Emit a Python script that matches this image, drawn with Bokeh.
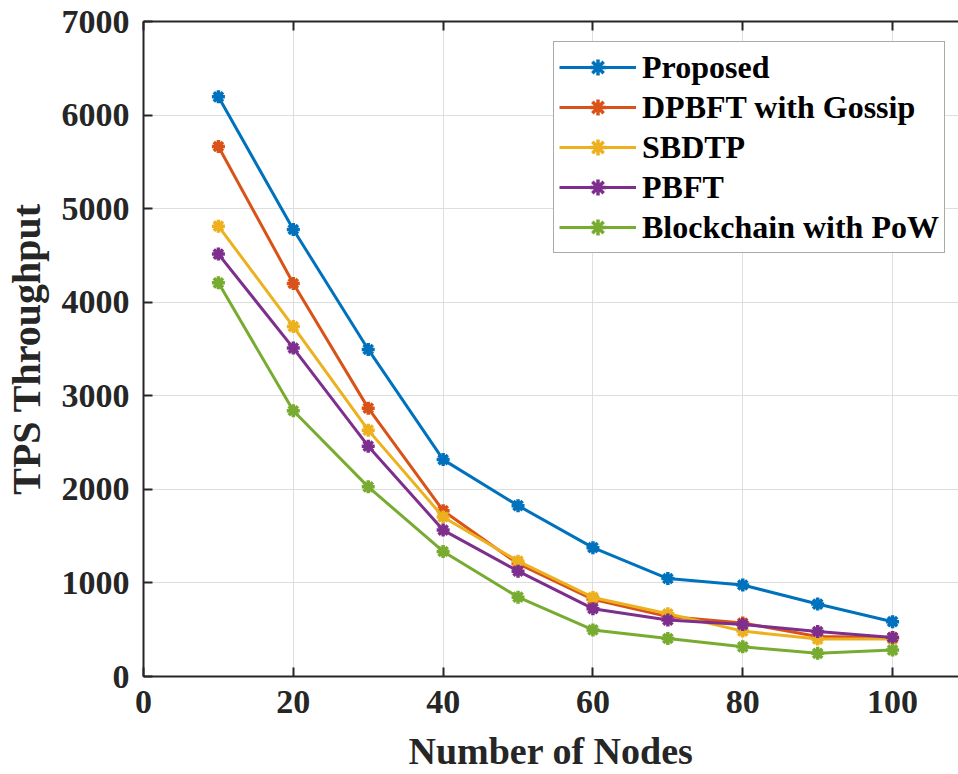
from bokeh.plotting import figure
from bokeh.models import Range1d, LinearAxis, FixedTicker, Legend, LegendItem
from bokeh.embed import file_html
from bokeh.resources import INLINE

nodes = [10, 20, 30, 40, 50, 60, 70, 80, 90, 100]
proposed = [6195, 4777, 3495, 2318, 1826, 1377, 1047, 978, 774, 586]
dpbft_gossip = [5664, 4200, 2868, 1772, 1205, 825, 640, 572, 428, 418]
sbdtp = [4813, 3740, 2633, 1705, 1233, 845, 670, 485, 400, 400]
pbft = [4514, 3510, 2462, 1565, 1126, 725, 603, 555, 481, 417]
pow_chain = [4207, 2840, 2027, 1336, 848, 498, 406, 317, 248, 282]

series_names = ["Proposed", "DPBFT with Gossip", "SBDTP", "PBFT", "Blockchain with PoW"]
series_values = [proposed, dpbft_gossip, sbdtp, pbft, pow_chain]
colors = ["#0072BD", "#D95319", "#EDB120", "#7E2F8E", "#77AC30"]

x_ticks = [0, 20, 40, 60, 80, 100]
y_ticks = [0, 1000, 2000, 3000, 4000, 5000, 6000, 7000]

FONT = "Liberation Serif"
TXT = "#262626"

p = figure(width=958, height=774, output_backend="svg", toolbar_location=None,
           x_range=Range1d(0, 108.8), y_range=Range1d(0, 7000),
           min_border_left=141, min_border_right=0, min_border_top=21, min_border_bottom=98,
           x_axis_label="Number of Nodes", y_axis_label="TPS Throughput")
p.outline_line_color = None
p.background_fill_color = "white"
p.border_fill_color = "white"

for ax, ticks in ((p.xaxis[0], x_ticks), (p.yaxis[0], y_ticks)):
    ax.ticker = FixedTicker(ticks=ticks)
    ax.minor_tick_line_color = None
    ax.major_tick_in = 9
    ax.major_tick_out = 0
    ax.axis_line_width = 2
    ax.axis_line_color = TXT
    ax.major_tick_line_width = 2
    ax.major_tick_line_color = TXT
    ax.major_label_text_font = FONT
    ax.major_label_text_font_style = "bold"
    ax.major_label_text_font_size = "34px"
    ax.major_label_text_color = TXT
    ax.axis_label_text_font = FONT
    ax.axis_label_text_font_style = "bold"
    ax.axis_label_text_color = TXT

p.xaxis.major_label_standoff = 14
p.xaxis.axis_label_standoff = 14
p.xaxis.axis_label_text_font_size = "38px"
p.yaxis.major_label_standoff = 14
p.yaxis.axis_label_standoff = 10
p.yaxis.axis_label_text_font_size = "40px"

top = LinearAxis(ticker=FixedTicker(ticks=x_ticks))
top.major_label_text_color = None
top.major_label_text_font_size = "1px"
top.major_label_standoff = 0
top.minor_tick_line_color = None
top.major_tick_in = 9
top.major_tick_out = 0
top.axis_line_width = 2
top.axis_line_color = TXT
top.major_tick_line_width = 2
top.major_tick_line_color = TXT
p.add_layout(top, "above")

p.xgrid.ticker = FixedTicker(ticks=x_ticks)
p.ygrid.ticker = FixedTicker(ticks=y_ticks)
p.grid.grid_line_color = "#dedede"
p.grid.grid_line_width = 1

items = []
for name, vals, c in zip(series_names, series_values, colors):
    r1 = p.line(nodes, vals, line_color=c, line_width=3)
    r2 = p.scatter(nodes, vals, marker="asterisk", size=13, line_color=c, line_width=3.5)
    items.append(LegendItem(label=name, renderers=[r1, r2]))

legend = Legend(items=items, location=(410, 423))
legend.label_text_font = FONT
legend.label_text_font_style = "bold"
legend.label_text_font_size = "32px"
legend.label_text_color = "black"
legend.glyph_width = 77
legend.glyph_height = 40
legend.label_height = 40
legend.spacing = 0
legend.padding = 5
legend.label_standoff = 6
legend.margin = 0
legend.border_line_color = "#555555"
legend.border_line_width = 1.5
legend.background_fill_color = "white"
legend.background_fill_alpha = 1
p.add_layout(legend, "center")

open("out.html", "w").write(file_html(p, INLINE))
